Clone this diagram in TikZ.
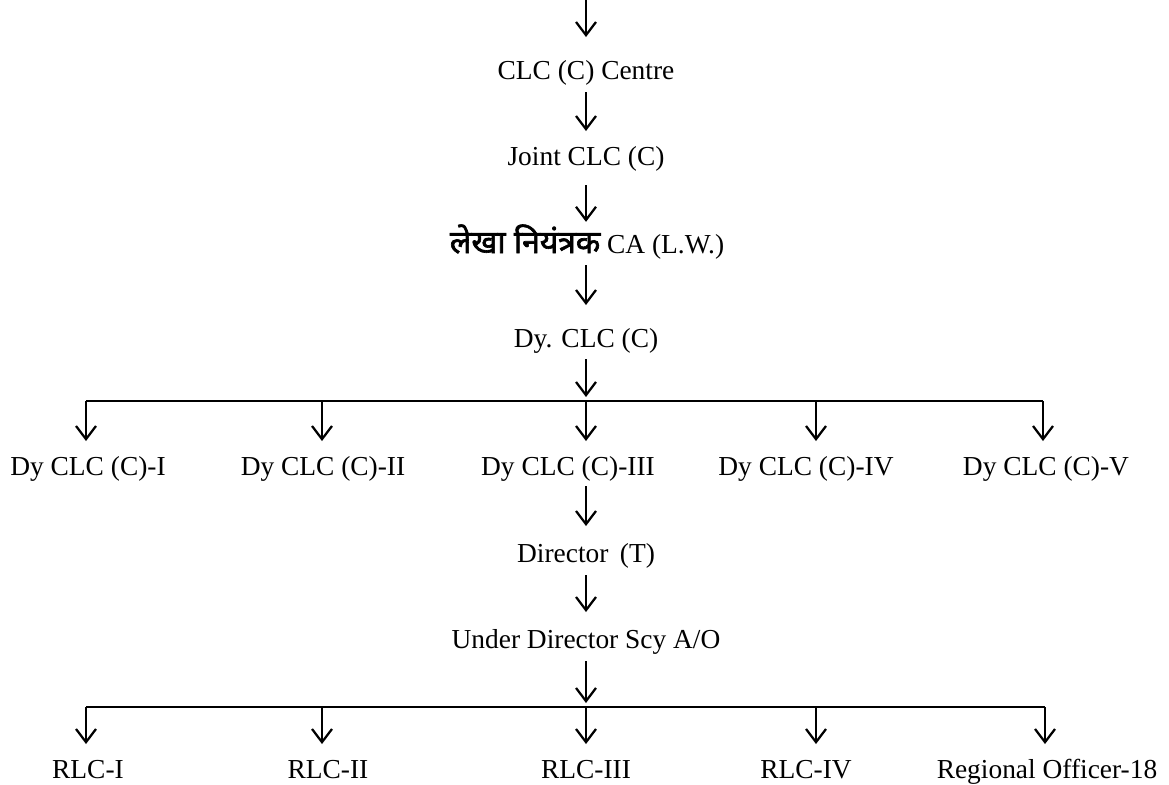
\documentclass[tikz,border=0pt]{standalone}
\usepackage{fontspec}
\setmainfont{Liberation Serif}
\newfontfamily\chartfont{Liberation Serif}
\newfontfamily\hindifont[Script=Devanagari,FakeBold=2,Scale=1.16]{Noto Sans}
\usepackage{tikz}
\usetikzlibrary{arrows.meta}
\tikzset{
  post/.style={inner sep=0pt,text height=14pt,text depth=4.3pt,anchor=base,
    font=\chartfont\fontsize{19.5}{23}\selectfont},
  link/.style={line width=1.6pt,-{Straight Barb[length=0.33cm,width=0.5cm]},
    shorten <=0.17cm,shorten >=0.35cm},
  tap/.style={link,shorten <=0pt},
  busline/.style={line width=1.6pt}
}

\begin{document}
\begin{tikzpicture}[x=0.025cm,y=-0.025cm]
        \useasboundingbox (0,0) rectangle (1169,784);

        % Main chain
        \coordinate (top) at (586,0);
        \node[post] (centre) at (586,79) {CLC (C) Centre};
        \node[post] (joint) at (586,165) {Joint CLC (C)};
        \node[post] (ca) at (587,253) {{\hindifont लेखा नियंत्रक} CA (L.W.)};
        \node[post] (dyclc) at (586,347) {Dy. CLC (C)};

        \draw[link,shorten <=0pt,shorten >=0.55cm] (top) -- (centre.north -| top);
        \draw[link] (centre.south) -- (joint.north);
        \draw[link,shorten <=0.35cm,shorten >=0.28cm] (joint.south) -- (joint.south |- ca.north);
        \draw[link,shorten <=0.15cm,shorten >=0.55cm] (joint.south |- ca.south) -- (dyclc.north);

        % Deputy row
        \coordinate (bus1) at (586,401);
        \node[post] (dy1) at (88,475) {Dy CLC (C)-I};
        \node[post] (dy2) at (323,475) {Dy CLC (C)-II};
        \node[post] (dy3) at (568,475) {Dy CLC (C)-III};
        \node[post] (dy4) at (806,475) {Dy CLC (C)-IV};
        \node[post] (dy5) at (1046,475) {Dy CLC (C)-V};
        \coordinate (t1) at (86,401);
        \coordinate (t2) at (322,401);
        \coordinate (t4) at (816,401);
        \coordinate (t5) at (1043,401);

        \draw[link,shorten <=0.15cm,shorten >=0.1cm] (dyclc.south) -- (bus1);
        \draw[busline] (t1) -- (t5);
        \draw[tap] (t1) -- (t1 |- dy1.north);
        \draw[tap] (t2) -- (t2 |- dy2.north);
        \draw[tap] (bus1) -- (bus1 |- dy3.north);
        \draw[tap] (t4) -- (t4 |- dy4.north);
        \draw[tap] (t5) -- (t5 |- dy5.north);

        % Lower chain
        \node[post] (director) at (586,562) {Director\, (T)};
        \node[post] (under) at (586,648) {Under Director Scy A/O};
        \draw[link,shorten <=0.12cm,shorten >=0.4cm] (bus1 |- dy3.south) -- (director.north);
        \draw[link,shorten >=0.4cm] (director.south) -- (under.north);

        % Regional row
        \coordinate (bus2) at (586,707);
        \node[post] (rlc1) at (88,778) {RLC-I};
        \node[post] (rlc2) at (328,778) {RLC-II};
        \node[post] (rlc3) at (586,778) {RLC-III};
        \node[post] (rlc4) at (806,778) {RLC-IV};
        \node[post] (ro) at (1047,778) {Regional Officer-18};
        \coordinate (u1) at (86,707);
        \coordinate (u2) at (322,707);
        \coordinate (u4) at (816,707);
        \coordinate (u5) at (1045,707);

        \draw[link,shorten >=0.1cm] (under.south) -- (bus2);
        \draw[busline] (u1) -- (u5);
        \draw[tap] (u1) -- (u1 |- rlc1.north);
        \draw[tap] (u2) -- (u2 |- rlc2.north);
        \draw[tap] (bus2) -- (bus2 |- rlc3.north);
        \draw[tap] (u4) -- (u4 |- rlc4.north);
        \draw[tap] (u5) -- (u5 |- ro.north);
    \end{tikzpicture}
\end{document}
